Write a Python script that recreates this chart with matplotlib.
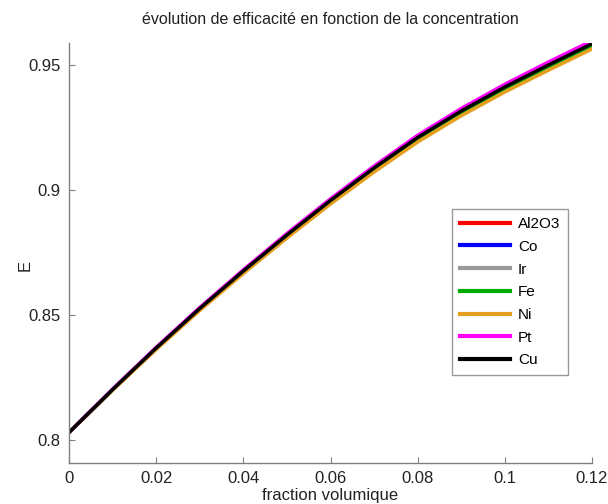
import matplotlib
matplotlib.use('Agg')
import matplotlib.pyplot as plt

plt.rcParams['font.family'] = ['Liberation Sans', 'DejaVu Sans']

# fraction volumique
phi = [0.0, 0.01, 0.02, 0.03, 0.04, 0.05, 0.06, 0.07, 0.08, 0.09, 0.10, 0.11, 0.12]

# efficacité E pour chaque nanoparticule
E_al2o3 = [0.8030, 0.8201, 0.8366, 0.8523, 0.8672, 0.8815, 0.8952, 0.9081, 0.9202, 0.9307, 0.9402, 0.9489, 0.9573]
E_co    = [0.8030, 0.8201, 0.8366, 0.8523, 0.8673, 0.8816, 0.8953, 0.9082, 0.9203, 0.9308, 0.9403, 0.9490, 0.9574]
E_ir    = [0.8030, 0.8200, 0.8365, 0.8522, 0.8671, 0.8814, 0.8951, 0.9080, 0.9201, 0.9306, 0.9401, 0.9488, 0.9572]
E_fe    = [0.8030, 0.8201, 0.8366, 0.8523, 0.8673, 0.8816, 0.8954, 0.9083, 0.9205, 0.9310, 0.9406, 0.9494, 0.9579]
E_ni    = [0.8030, 0.8199, 0.8362, 0.8518, 0.8666, 0.8808, 0.8944, 0.9072, 0.9192, 0.9297, 0.9392, 0.9479, 0.9564]
E_pt    = [0.8030, 0.8204, 0.8371, 0.8530, 0.8681, 0.8826, 0.8965, 0.9096, 0.9219, 0.9326, 0.9423, 0.9512, 0.9597]
E_cu    = [0.8030, 0.8202, 0.8368, 0.8526, 0.8676, 0.8820, 0.8958, 0.9088, 0.9210, 0.9316, 0.9412, 0.9500, 0.9585]

noms = ['Al2O3', 'Co', 'Ir', 'Fe', 'Ni', 'Pt', 'Cu']
couleurs = ['#ff0000', '#0000ff', '#999999', '#00aa00', '#e6a020', '#ff00ff', '#000000']
series = [E_al2o3, E_co, E_ir, E_fe, E_ni, E_pt, E_cu]

xticks = [0, 0.02, 0.04, 0.06, 0.08, 0.1, 0.12]
xtick_labels = ['0', '0.02', '0.04', '0.06', '0.08', '0.1', '0.12']
yticks = [0.8, 0.85, 0.9, 0.95]
ytick_labels = ['0.8', '0.85', '0.9', '0.95']

fig = plt.figure(figsize=(6.08, 5.04), dpi=100)
ax = fig.add_axes([0.1135, 0.0813, 0.8602, 0.8334])

for E, nom, c in zip(series, noms, couleurs):
    ax.plot(phi, E, color=c, linewidth=2.5, label=nom)

ax.set_xlim(0, 0.12)
ax.set_ylim(0.7908, 0.9588)
ax.set_xticks(xticks)
ax.set_xticklabels(xtick_labels)
ax.set_yticks(yticks)
ax.set_yticklabels(ytick_labels)

for s in ['top', 'right']:
    ax.spines[s].set_visible(False)
for s in ['left', 'bottom']:
    ax.spines[s].set_color('#808080')
    ax.spines[s].set_linewidth(1.0)
ax.tick_params(direction='in', length=4, color='#808080', labelsize=12,
               labelcolor='#222222', pad=6)

ax.set_title('évolution de efficacité en fonction de la concentration',
             fontsize=11.5, color='#222222', pad=14)
ax.set_xlabel('fraction volumique', fontsize=12, color='#222222', labelpad=1)
ax.set_ylabel('E', fontsize=12, color='#222222')
ax.yaxis.set_label_coords(-0.069, 0.471)

leg = ax.legend(loc='lower right', bbox_to_anchor=(0.954, 0.2095), fontsize=11,
                handlelength=3.3, handletextpad=0.5, labelspacing=0.57,
                borderaxespad=0, frameon=True, fancybox=False, borderpad=0.5)
leg.get_frame().set_edgecolor('#808080')
leg.get_frame().set_linewidth(1.0)
for line in leg.get_lines():
    line.set_linewidth(3)

fig.savefig('out.png', dpi=100)
